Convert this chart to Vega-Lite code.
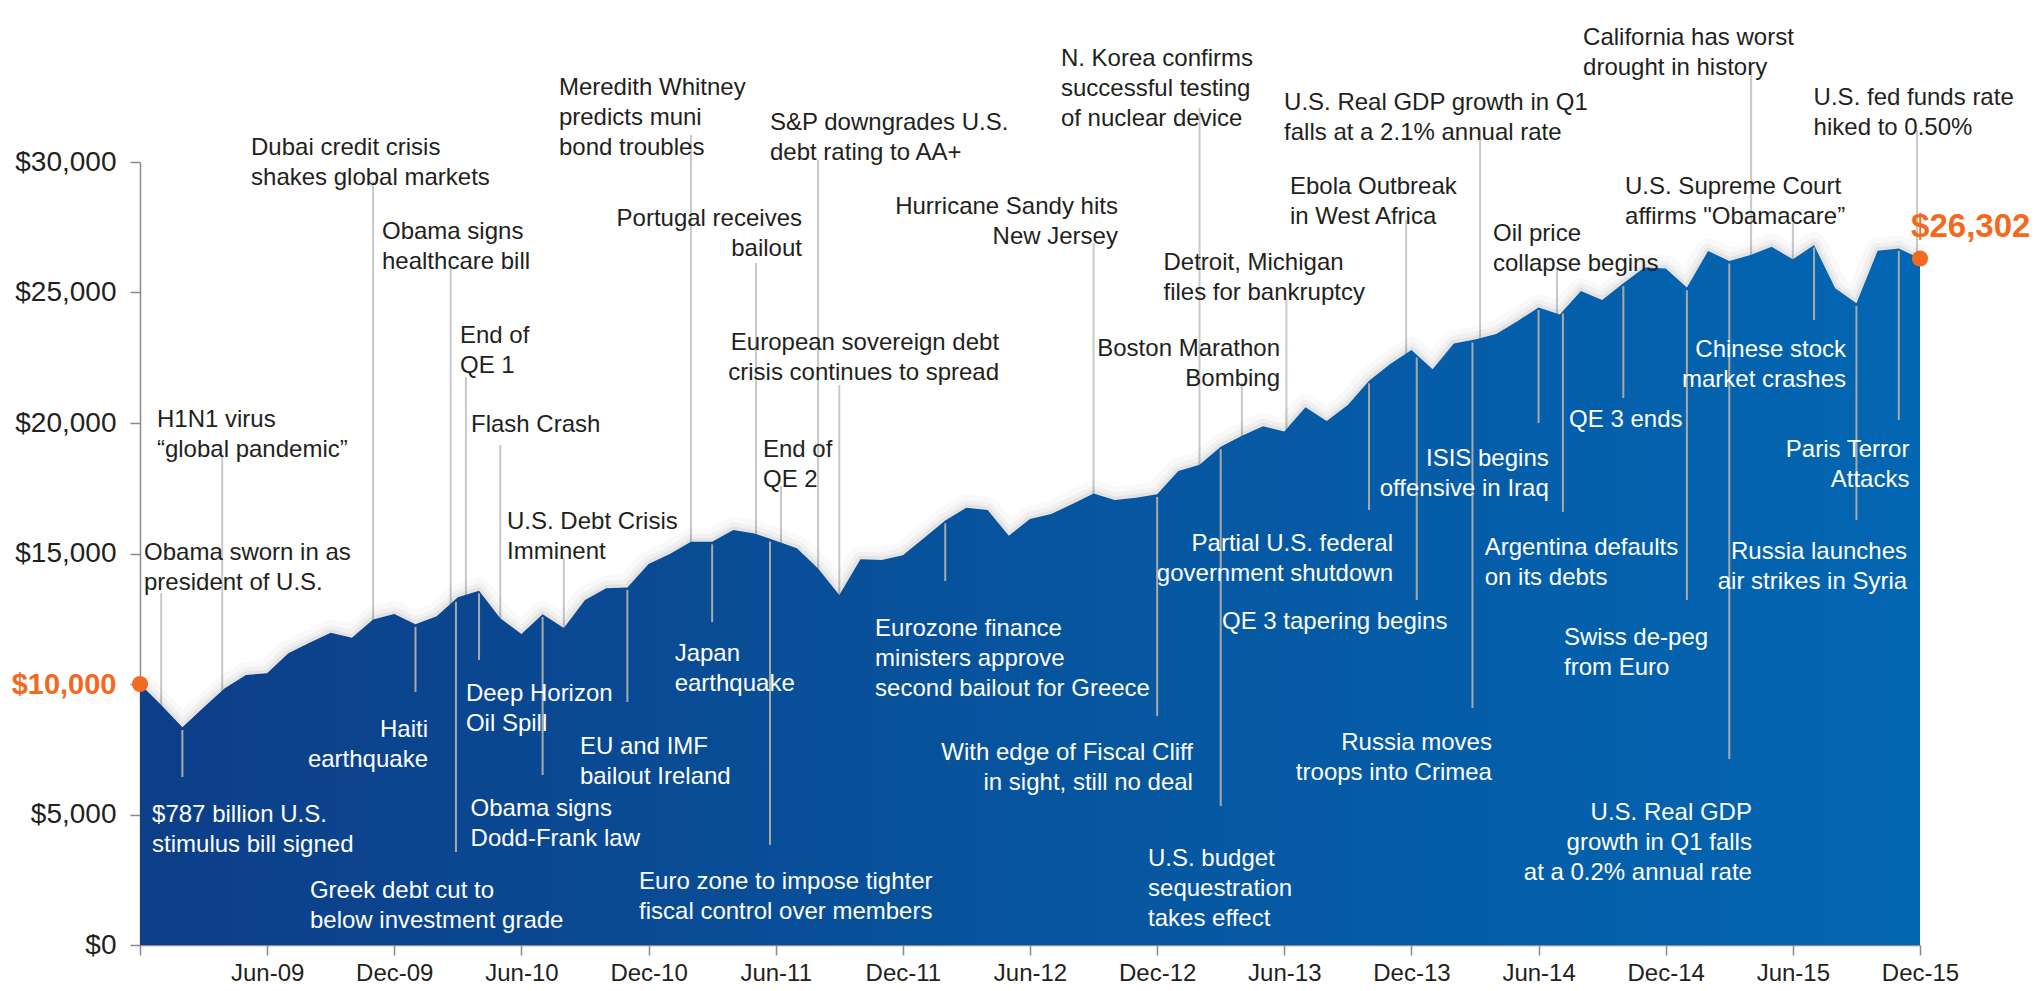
{
  "$schema": "https://vega.github.io/schema/vega-lite/v6.json",
  "autosize": {"type": "none"},
  "width": 1780,
  "height": 783,
  "padding": {"left": 140, "top": 162, "right": 119, "bottom": 46},
  "background": "#ffffff",
  "config": {
    "view": {"stroke": null},
    "font": "Liberation Sans",
    "text": {"font": "Liberation Sans"}
  },
  "datasets": {
    "series": [
      {"m": 0, "month": "Dec-08", "value": 10000},
      {"m": 1, "month": "Jan-09", "value": 9200},
      {"m": 2, "month": "Feb-09", "value": 8340},
      {"m": 3, "month": "Mar-09", "value": 9100},
      {"m": 4, "month": "Apr-09", "value": 9835},
      {"m": 5, "month": "May-09", "value": 10345},
      {"m": 6, "month": "Jun-09", "value": 10410},
      {"m": 7, "month": "Jul-09", "value": 11175},
      {"m": 8, "month": "Aug-09", "value": 11580},
      {"m": 9, "month": "Sep-09", "value": 11965},
      {"m": 10, "month": "Oct-09", "value": 11775},
      {"m": 11, "month": "Nov-09", "value": 12475},
      {"m": 12, "month": "Dec-09", "value": 12680},
      {"m": 13, "month": "Jan-10", "value": 12290},
      {"m": 14, "month": "Feb-10", "value": 12600},
      {"m": 15, "month": "Mar-10", "value": 13320},
      {"m": 16, "month": "Apr-10", "value": 13575},
      {"m": 17, "month": "May-10", "value": 12520},
      {"m": 18, "month": "Jun-10", "value": 11915},
      {"m": 19, "month": "Jul-10", "value": 12670},
      {"m": 20, "month": "Aug-10", "value": 12150},
      {"m": 21, "month": "Sep-10", "value": 13220},
      {"m": 22, "month": "Oct-10", "value": 13665},
      {"m": 23, "month": "Nov-10", "value": 13700},
      {"m": 24, "month": "Dec-10", "value": 14600},
      {"m": 25, "month": "Jan-11", "value": 14980},
      {"m": 26, "month": "Feb-11", "value": 15450},
      {"m": 27, "month": "Mar-11", "value": 15450},
      {"m": 28, "month": "Apr-11", "value": 15900},
      {"m": 29, "month": "May-11", "value": 15770},
      {"m": 30, "month": "Jun-11", "value": 15490},
      {"m": 31, "month": "Jul-11", "value": 15200},
      {"m": 32, "month": "Aug-11", "value": 14430},
      {"m": 33, "month": "Sep-11", "value": 13410},
      {"m": 34, "month": "Oct-11", "value": 14780},
      {"m": 35, "month": "Nov-11", "value": 14750},
      {"m": 36, "month": "Dec-11", "value": 14930},
      {"m": 37, "month": "Jan-12", "value": 15590},
      {"m": 38, "month": "Feb-12", "value": 16260},
      {"m": 39, "month": "Mar-12", "value": 16755},
      {"m": 40, "month": "Apr-12", "value": 16670},
      {"m": 41, "month": "May-12", "value": 15680},
      {"m": 42, "month": "Jun-12", "value": 16320},
      {"m": 43, "month": "Jul-12", "value": 16510},
      {"m": 44, "month": "Aug-12", "value": 16900},
      {"m": 45, "month": "Sep-12", "value": 17300},
      {"m": 46, "month": "Oct-12", "value": 17050},
      {"m": 47, "month": "Nov-12", "value": 17140},
      {"m": 48, "month": "Dec-12", "value": 17270},
      {"m": 49, "month": "Jan-13", "value": 18160},
      {"m": 50, "month": "Feb-13", "value": 18400},
      {"m": 51, "month": "Mar-13", "value": 19090},
      {"m": 52, "month": "Apr-13", "value": 19510},
      {"m": 53, "month": "May-13", "value": 19880},
      {"m": 54, "month": "Jun-13", "value": 19670},
      {"m": 55, "month": "Jul-13", "value": 20600},
      {"m": 56, "month": "Aug-13", "value": 20080},
      {"m": 57, "month": "Sep-13", "value": 20690},
      {"m": 58, "month": "Oct-13", "value": 21620},
      {"m": 59, "month": "Nov-13", "value": 22260},
      {"m": 60, "month": "Dec-13", "value": 22800},
      {"m": 61, "month": "Jan-14", "value": 22060},
      {"m": 62, "month": "Feb-14", "value": 23050},
      {"m": 63, "month": "Mar-14", "value": 23200},
      {"m": 64, "month": "Apr-14", "value": 23410},
      {"m": 65, "month": "May-14", "value": 23900},
      {"m": 66, "month": "Jun-14", "value": 24430},
      {"m": 67, "month": "Jul-14", "value": 24160},
      {"m": 68, "month": "Aug-14", "value": 25060},
      {"m": 69, "month": "Sep-14", "value": 24710},
      {"m": 70, "month": "Oct-14", "value": 25350},
      {"m": 71, "month": "Nov-14", "value": 25960},
      {"m": 72, "month": "Dec-14", "value": 25920},
      {"m": 73, "month": "Jan-15", "value": 25190},
      {"m": 74, "month": "Feb-15", "value": 26590},
      {"m": 75, "month": "Mar-15", "value": 26210},
      {"m": 76, "month": "Apr-15", "value": 26440},
      {"m": 77, "month": "May-15", "value": 26750},
      {"m": 78, "month": "Jun-15", "value": 26270},
      {"m": 79, "month": "Jul-15", "value": 26820},
      {"m": 80, "month": "Aug-15", "value": 25160},
      {"m": 81, "month": "Sep-15", "value": 24590},
      {"m": 82, "month": "Oct-15", "value": 26600},
      {"m": 83, "month": "Nov-15", "value": 26690},
      {"m": 84, "month": "Dec-15", "value": 26302}
    ],
    "aboveLines": [
      {"m": 1, "top": 13487},
      {"m": 3.88, "top": 18736},
      {"m": 11, "top": 29234},
      {"m": 14.66, "top": 25996},
      {"m": 15.38, "top": 21762},
      {"m": 17, "top": 19157},
      {"m": 20, "top": 14828},
      {"m": 26, "top": 31034},
      {"m": 29.07, "top": 26130},
      {"m": 30.25, "top": 17586},
      {"m": 32, "top": 30076},
      {"m": 33, "top": 21456},
      {"m": 45, "top": 26896},
      {"m": 50, "top": 32069},
      {"m": 52, "top": 21532},
      {"m": 54.1, "top": 24751},
      {"m": 59.75, "top": 27778},
      {"m": 63.24, "top": 31226},
      {"m": 66.87, "top": 25977},
      {"m": 76.03, "top": 33601},
      {"m": 78, "top": 27663},
      {"m": 83.86, "top": 31226}
    ],
    "belowLines": [
      {"m": 2, "top": 8240, "bottom": 6437},
      {"m": 13, "top": 12190, "bottom": 9693},
      {"m": 14.91, "top": 13150, "bottom": 3563},
      {"m": 16, "top": 13475, "bottom": 10919},
      {"m": 19, "top": 12570, "bottom": 6513},
      {"m": 23, "top": 13600, "bottom": 9310},
      {"m": 27, "top": 15350, "bottom": 12375},
      {"m": 29.73, "top": 15460, "bottom": 3831},
      {"m": 38, "top": 16160, "bottom": 13946},
      {"m": 48, "top": 17170, "bottom": 8774},
      {"m": 51, "top": 18990, "bottom": 5326},
      {"m": 58, "top": 21520, "bottom": 16667},
      {"m": 60.25, "top": 22510, "bottom": 13218},
      {"m": 62.88, "top": 23080, "bottom": 9080},
      {"m": 66, "top": 24330, "bottom": 20000},
      {"m": 67.15, "top": 24200, "bottom": 16590},
      {"m": 70, "top": 25250, "bottom": 20958},
      {"m": 73, "top": 25090, "bottom": 13218},
      {"m": 75, "top": 26110, "bottom": 7126},
      {"m": 79, "top": 26720, "bottom": 23946},
      {"m": 81, "top": 24490, "bottom": 16283},
      {"m": 83, "top": 26590, "bottom": 20115}
    ],
    "textAboveLeft": [
      {"m": 0.19, "v": 15019, "label": ["Obama sworn in as", "president of U.S."]},
      {"m": 0.8, "v": 20115, "label": ["H1N1 virus", "“global pandemic”"]},
      {"m": 5.24, "v": 30555, "label": ["Dubai credit crisis", "shakes global markets"]},
      {"m": 19.77, "v": 32820, "label": ["Meredith Whitney", "predicts muni", "bond troubles"]},
      {"m": 29.73, "v": 31494, "label": ["S&P downgrades U.S.", "debt rating to AA+"]},
      {"m": 43.46, "v": 33931, "label": ["N. Korea confirms", "successful testing", "of nuclear device"]},
      {"m": 53.99, "v": 32260, "label": ["U.S. Real GDP growth in Q1", "falls at a 2.1% annual rate"]},
      {"m": 68.1, "v": 34751, "label": ["California has worst", "drought in history"]},
      {"m": 78.98, "v": 32452, "label": ["U.S. fed funds rate", "hiked to 0.50%"]},
      {"m": 11.42, "v": 27318, "label": ["Obama signs", "healthcare bill"]},
      {"m": 54.27, "v": 29061, "label": ["Ebola Outbreak", "in West Africa"]},
      {"m": 70.08, "v": 29061, "label": ["U.S. Supreme Court", "affirms \"Obamacare”"]},
      {"m": 63.85, "v": 27241, "label": ["Oil price", "collapse begins"]},
      {"m": 48.3, "v": 26130, "label": ["Detroit, Michigan", "files for bankruptcy"]},
      {"m": 15.1, "v": 23333, "label": ["End of", "QE 1"]},
      {"m": 15.62, "v": 19923, "label": ["Flash Crash"]},
      {"m": 29.4, "v": 18965, "label": ["End of", "QE 2"]},
      {"m": 17.32, "v": 16226, "label": ["U.S. Debt Crisis", "Imminent"]}
    ],
    "textAboveRight": [
      {"m": 46.15, "v": 28276, "label": ["Hurricane Sandy hits", "New Jersey"]},
      {"m": 31.24, "v": 27816, "label": ["Portugal receives", "bailout"]},
      {"m": 40.54, "v": 23065, "label": ["European sovereign debt", "crisis continues to spread"]},
      {"m": 53.8, "v": 22835, "label": ["Boston Marathon", "Bombing"]}
    ],
    "textBelowLeft": [
      {"m": 0.57, "v": 4981, "label": ["$787 billion U.S.", "stimulus bill signed"]},
      {"m": 15.38, "v": 9598, "label": ["Deep Horizon", "Oil Spill"]},
      {"m": 15.6, "v": 5211, "label": ["Obama signs", "Dodd-Frank law"]},
      {"m": 8.02, "v": 2088, "label": ["Greek debt cut to", "below investment grade"]},
      {"m": 20.76, "v": 7605, "label": ["EU and IMF", "bailout Ireland"]},
      {"m": 25.23, "v": 11149, "label": ["Japan", "earthquake"]},
      {"m": 23.55, "v": 2414, "label": ["Euro zone to impose tighter", "fiscal control over members"]},
      {"m": 34.69, "v": 12107, "label": ["Eurozone finance", "ministers approve", "second bailout for Greece"]},
      {"m": 47.57, "v": 3295, "label": ["U.S. budget", "sequestration", "takes effect"]},
      {"m": 51.06, "v": 12375, "label": ["QE 3 tapering begins"]},
      {"m": 63.46, "v": 15192, "label": ["Argentina defaults", "on its debts"]},
      {"m": 67.44, "v": 20115, "label": ["QE 3 ends"]},
      {"m": 67.2, "v": 11762, "label": ["Swiss de-peg", "from Euro"]}
    ],
    "textBelowRight": [
      {"m": 13.59, "v": 8238, "label": ["Haiti", "earthquake"]},
      {"m": 49.69, "v": 7356, "label": ["With edge of Fiscal Cliff", "in sight, still no deal"]},
      {"m": 59.13, "v": 15364, "label": ["Partial U.S. federal", "government shutdown"]},
      {"m": 63.8, "v": 7739, "label": ["Russia moves", "troops into Crimea"]},
      {"m": 66.48, "v": 18621, "label": ["ISIS begins", "offensive in Iraq"]},
      {"m": 76.07, "v": 5057, "label": ["U.S. Real GDP", "growth in Q1 falls", "at a 0.2% annual rate"]},
      {"m": 80.51, "v": 22797, "label": ["Chinese stock", "market crashes"]},
      {"m": 83.5, "v": 18965, "label": ["Paris Terror", "Attacks"]},
      {"m": 83.39, "v": 15057, "label": ["Russia launches", "air strikes in Syria"]}
    ],
    "dots": [
      {"m": 0, "value": 10000},
      {"m": 84, "value": 26302}
    ],
    "endLabel": [
      {"m": 83.58, "v": 27500, "label": "$26,302"}
    ]
  },
  "layer": [
    {
      "data": {"name": "aboveLines"},
      "mark": {"type": "rule", "color": "#c8c8c8", "strokeWidth": 2},
      "encoding": {
        "x": {"field": "m", "type": "quantitative", "scale": {"domain": [0, 84], "nice": false, "zero": false}, "title": null},
        "y": {"field": "top", "type": "quantitative", "scale": {"domain": [0, 30000], "nice": false}, "title": null},
        "y2": {"datum": 0}
      }
    },
    {
      "data": {"name": "series"},
      "mark": {"type": "line", "color": "#000000", "opacity": 0.025, "strokeWidth": 26, "strokeJoin": "round"},
      "encoding": {
        "x": {"field": "m", "type": "quantitative", "scale": {"domain": [0, 84], "nice": false, "zero": false}, "title": null},
        "y": {"field": "value", "type": "quantitative", "scale": {"domain": [0, 30000], "nice": false}, "title": null}
      }
    },
    {
      "data": {"name": "series"},
      "mark": {"type": "line", "color": "#000000", "opacity": 0.035, "strokeWidth": 15, "strokeJoin": "round"},
      "encoding": {
        "x": {"field": "m", "type": "quantitative", "scale": {"domain": [0, 84], "nice": false, "zero": false}, "title": null},
        "y": {"field": "value", "type": "quantitative", "scale": {"domain": [0, 30000], "nice": false}, "title": null}
      }
    },
    {
      "data": {"name": "series"},
      "mark": {"type": "line", "color": "#000000", "opacity": 0.05, "strokeWidth": 7, "strokeJoin": "round"},
      "encoding": {
        "x": {"field": "m", "type": "quantitative", "scale": {"domain": [0, 84], "nice": false, "zero": false}, "title": null},
        "y": {"field": "value", "type": "quantitative", "scale": {"domain": [0, 30000], "nice": false}, "title": null}
      }
    },
    {
      "data": {"name": "series"},
      "mark": {
        "type": "area",
        "opacity": 1,
        "color": {
          "gradient": "linear",
          "x1": 0, "y1": 0, "x2": 1, "y2": 0,
          "stops": [
            {"offset": 0, "color": "#0d3e88"},
            {"offset": 0.5, "color": "#07549e"},
            {"offset": 1, "color": "#0366b2"}
          ]
        }
      },
      "encoding": {
        "x": {
          "field": "m", "type": "quantitative",
          "scale": {"domain": [0, 84], "nice": false, "zero": false},
          "title": null,
          "axis": {
            "title": null,
            "values": [0, 6, 12, 18, 24, 30, 36, 42, 48, 54, 60, 66, 72, 78, 84],
            "labelExpr": "datum.value == 0 ? '' : ['Jan','Feb','Mar','Apr','May','Jun','Jul','Aug','Sep','Oct','Nov','Dec'][(datum.value + 11) % 12] + '-' + ((floor((datum.value + 11) / 12) + 8) < 10 ? '0' : '') + (floor((datum.value + 11) / 12) + 8)",
            "labelFont": "Liberation Sans",
            "labelFontSize": 24,
            "labelColor": "#231f20",
            "labelPadding": 6,
            "labelFlush": false,
            "labelOverlap": false,
            "tickSize": 10,
            "tickWidth": 1.5,
            "tickColor": "#8a8a8a",
            "domainColor": "#8a8a8a",
            "domainWidth": 1.5,
            "grid": false
          }
        },
        "y": {
          "field": "value", "type": "quantitative",
          "scale": {"domain": [0, 30000], "nice": false},
          "title": null,
          "axis": {
            "title": null,
            "values": [0, 5000, 10000, 15000, 20000, 25000, 30000],
            "labelExpr": "'$' + format(datum.value, ',')",
            "labelFont": "Liberation Sans",
            "labelFontSize": {"condition": {"test": "datum.value == 10000", "value": 29}, "value": 28},
            "labelColor": {"condition": {"test": "datum.value == 10000", "value": "#f26a21"}, "value": "#231f20"},
            "labelFontWeight": {"condition": {"test": "datum.value == 10000", "value": "bold"}, "value": "normal"},
            "labelPadding": 14,
            "labelFlush": false,
            "labelOverlap": false,
            "tickSize": 10,
            "tickWidth": 1.5,
            "tickColor": "#8a8a8a",
            "domainColor": "#8a8a8a",
            "domainWidth": 1.5,
            "grid": false
          }
        }
      }
    },
    {
      "data": {"name": "belowLines"},
      "mark": {"type": "rule", "color": "#a9a9a9", "strokeWidth": 2},
      "encoding": {
        "x": {"field": "m", "type": "quantitative", "scale": {"domain": [0, 84], "nice": false, "zero": false}, "title": null},
        "y": {"field": "top", "type": "quantitative", "scale": {"domain": [0, 30000], "nice": false}, "title": null},
        "y2": {"field": "bottom"}
      }
    },
    {
      "data": {"name": "dots"},
      "mark": {"type": "circle", "color": "#f26a21", "opacity": 1, "size": 260},
      "encoding": {
        "x": {"field": "m", "type": "quantitative", "scale": {"domain": [0, 84], "nice": false, "zero": false}, "title": null},
        "y": {"field": "value", "type": "quantitative", "scale": {"domain": [0, 30000], "nice": false}, "title": null}
      }
    },
    {
      "data": {"name": "textAboveLeft"},
      "mark": {"type": "text", "align": "left", "baseline": "middle", "fontSize": 24, "lineHeight": 30, "color": "#231f20", "font": "Liberation Sans"},
      "encoding": {
        "x": {"field": "m", "type": "quantitative", "scale": {"domain": [0, 84], "nice": false, "zero": false}, "title": null},
        "y": {"field": "v", "type": "quantitative", "scale": {"domain": [0, 30000], "nice": false}, "title": null},
        "text": {"field": "label"}
      }
    },
    {
      "data": {"name": "textAboveRight"},
      "mark": {"type": "text", "align": "right", "baseline": "middle", "fontSize": 24, "lineHeight": 30, "color": "#231f20", "font": "Liberation Sans"},
      "encoding": {
        "x": {"field": "m", "type": "quantitative", "scale": {"domain": [0, 84], "nice": false, "zero": false}, "title": null},
        "y": {"field": "v", "type": "quantitative", "scale": {"domain": [0, 30000], "nice": false}, "title": null},
        "text": {"field": "label"}
      }
    },
    {
      "data": {"name": "textBelowLeft"},
      "mark": {"type": "text", "align": "left", "baseline": "middle", "fontSize": 24, "lineHeight": 30, "color": "#ffffff", "font": "Liberation Sans"},
      "encoding": {
        "x": {"field": "m", "type": "quantitative", "scale": {"domain": [0, 84], "nice": false, "zero": false}, "title": null},
        "y": {"field": "v", "type": "quantitative", "scale": {"domain": [0, 30000], "nice": false}, "title": null},
        "text": {"field": "label"}
      }
    },
    {
      "data": {"name": "textBelowRight"},
      "mark": {"type": "text", "align": "right", "baseline": "middle", "fontSize": 24, "lineHeight": 30, "color": "#ffffff", "font": "Liberation Sans"},
      "encoding": {
        "x": {"field": "m", "type": "quantitative", "scale": {"domain": [0, 84], "nice": false, "zero": false}, "title": null},
        "y": {"field": "v", "type": "quantitative", "scale": {"domain": [0, 30000], "nice": false}, "title": null},
        "text": {"field": "label"}
      }
    },
    {
      "data": {"name": "endLabel"},
      "mark": {"type": "text", "align": "left", "baseline": "middle", "fontSize": 33, "fontWeight": "bold", "color": "#f26a21", "font": "Liberation Sans"},
      "encoding": {
        "x": {"field": "m", "type": "quantitative", "scale": {"domain": [0, 84], "nice": false, "zero": false}, "title": null},
        "y": {"field": "v", "type": "quantitative", "scale": {"domain": [0, 30000], "nice": false}, "title": null},
        "text": {"field": "label"}
      }
    }
  ]
}
